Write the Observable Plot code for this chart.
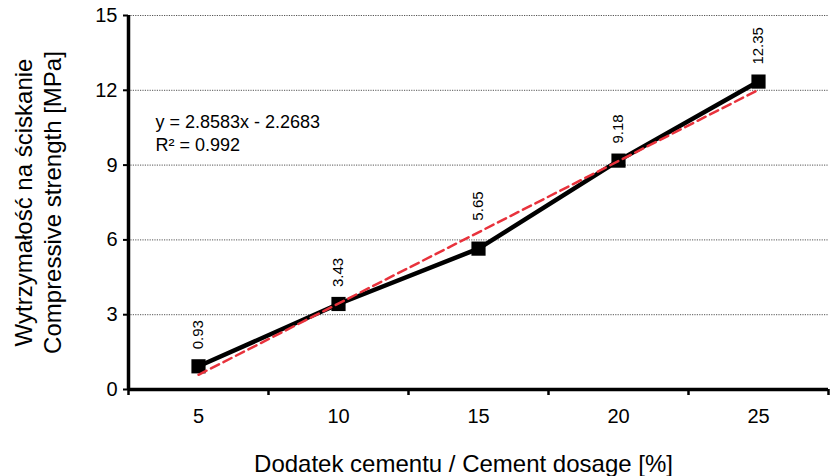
<!DOCTYPE html>
<html><head><meta charset="utf-8">
<script src="https://cdn.jsdelivr.net/npm/d3@7"></script>
<script src="https://cdn.jsdelivr.net/npm/@observablehq/plot@0.6"></script>
<style>body{margin:0;background:#fff;font-family:"Liberation Sans",Arial,sans-serif}</style>
</head><body><div id="chart"></div>
<script>
const dosage = [5, 10, 15, 20, 25];
const strength = [0.93, 3.43, 5.65, 9.18, 12.35];
const trendX = [5, 25];
const trendY = [0.59, 12.02];
const yTicks = [0, 3, 6, 9, 12, 15];
const gridY = [3, 6, 9, 12, 15];
const xTicks = [5, 10, 15, 20, 25];
const xBounds = [2.5, 7.5, 12.5, 17.5, 22.5, 27.5];
const equation = ["y = 2.8583x - 2.2683", "R² = 0.992"];
const xTitle = "Dodatek cementu / Cement dosage [%]";
const yTitle = ["Wytrzymałość na ściskanie", "Compressive strength [MPa]"];

const pts = dosage.map((d, i) => ({x: d, y: strength[i]}));
const trend = trendX.map((d, i) => ({x: d, y: trendY[i]}));
const fmt = d => d.y.toFixed(2);

const chart = Plot.plot({
  width: 834, height: 476,
  marginLeft: 128, marginRight: 6, marginTop: 15, marginBottom: 87,
  style: {fontFamily: "Liberation Sans, Arial, sans-serif", color: "#000", background: "#fff"},
  x: {domain: [2.5, 27.5]},
  y: {domain: [0, 15]},
  marks: [
    Plot.ruleY(gridY, {stroke: "#555", strokeWidth: 1, strokeDasharray: "1.2,1.2"}),
    Plot.axisY(yTicks, {tickSize: 5, tickPadding: 6, fontSize: 20, strokeWidth: 2, label: null}),
    Plot.axisX(xBounds, {tickSize: 6, tickFormat: () => "", strokeWidth: 2.5, label: null}),
    Plot.axisX(xTicks, {tickSize: 0, tickPadding: 19, fontSize: 20, label: null}),
    Plot.ruleX([2.5], {stroke: "#000", strokeWidth: 3.5}),
    Plot.ruleY([0], {stroke: "#000", strokeWidth: 3.5}),
    Plot.line(pts, {x: "x", y: "y", stroke: "#000", strokeWidth: 4.5}),
    Plot.dot(pts, {x: "x", y: "y", symbol: "square", r: 8, fill: "#000", stroke: "none"}),
    Plot.line(trend, {x: "x", y: "y", stroke: "#e8323c", strokeWidth: 2.5, strokeDasharray: "9,5"}),
    Plot.text(pts, {filter: (d, i) => i !== 2, x: "x", y: "y", text: fmt, rotate: -90, textAnchor: "start", dy: -17, fontSize: 15, fill: "#000"}),
    Plot.text(pts, {filter: (d, i) => i === 2, x: "x", y: "y", text: fmt, rotate: -90, textAnchor: "start", dy: -28, fontSize: 15, fill: "#000"}),
    Plot.text([equation.join("\n")], {frameAnchor: "top-left", textAnchor: "start", lineAnchor: "top", dx: 27, dy: 96, fontSize: 18, lineHeight: 1.28, fill: "#000"}),
    Plot.text([yTitle.join("\n")], {frameAnchor: "left", textAnchor: "middle", rotate: -90, dx: -91, fontSize: 24, lineHeight: 1.18, fill: "#000"}),
    Plot.text([xTitle], {frameAnchor: "bottom", textAnchor: "middle", lineAnchor: "middle", dx: -15, dy: 75, fontSize: 24, fill: "#000"})
  ]
});
document.getElementById("chart").appendChild(chart);
</script>
</body></html>
